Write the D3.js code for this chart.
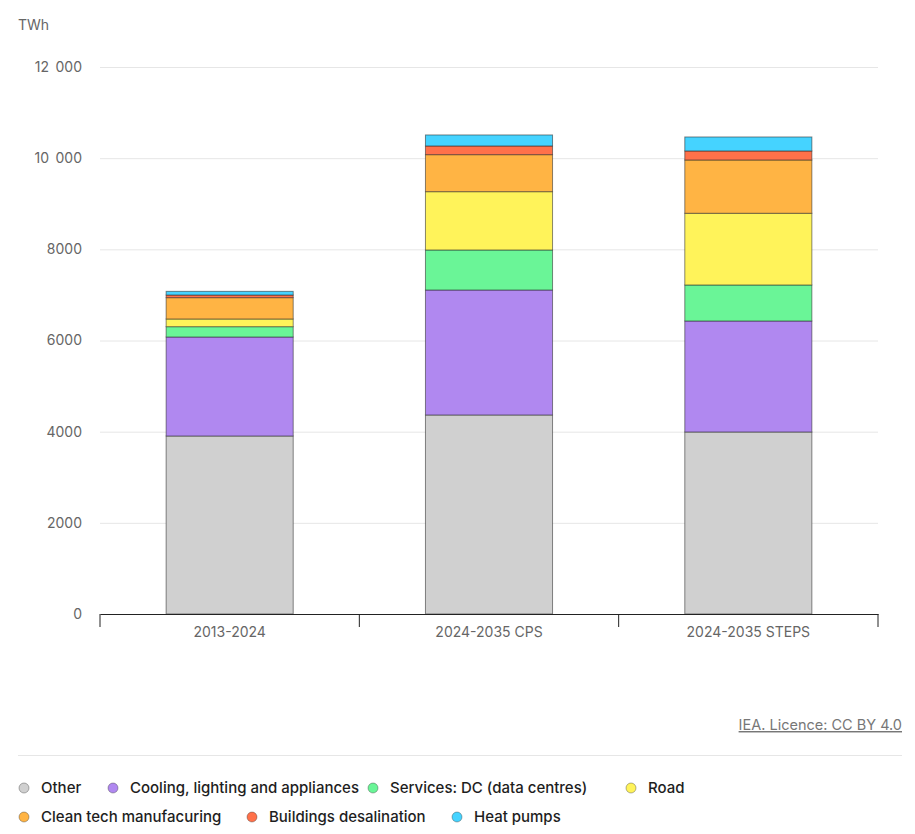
<!DOCTYPE html>
<html>
<head>
<meta charset="utf-8">
<script src="https://cdn.jsdelivr.net/npm/d3@7"></script>
<style>
  body { margin: 0; background: #fff; font-family: Inter, "Noto Sans", sans-serif; }
  .tick text { fill: #666; font-size: 14px; }
  .legend text { fill: #1e1e1e; font-size: 15px; font-weight: 500; }
</style>
</head>
<body>
<svg id="chart" width="915" height="834"></svg>
<script>
const categories = ["2013-2024", "2024-2035 CPS", "2024-2035 STEPS"];
const seriesNames = ["Other", "Cooling, lighting and appliances", "Services: DC (data centres)", "Road",
  "Clean tech manufacuring", "Buildings desalination", "Heat pumps"];
const other = [3905, 4366, 3993];
const cooling = [2172, 2742, 2435];
const dataCentres = [226, 878, 790];
const road = [169, 1279, 1573];
const cleanTech = [468, 812, 1169];
const desalination = [58, 191, 198];
const heatPumps = [80, 241, 307];
const yTicks = [0, 2000, 4000, 6000, 8000, 10000, 12000];
const colors = ["#d0d0d0", "#b088f0", "#6af597", "#fff35a", "#ffb444", "#ff714a", "#45d3ff"];

const series = [other, cooling, dataCentres, road, cleanTech, desalination, heatPumps];
const rows = categories.map((c, i) => {
  let r = { cat: c };
  seriesNames.forEach((s, j) => { r[s] = series[j][i]; });
  return r;
});

const svg = d3.select("#chart");
const mLeft = 100, mRight = 878, mTop = 67, mBottom = 614;

const x = d3.scaleBand().domain(categories).range([mLeft, mRight]).paddingInner(0.51).paddingOuter(0.255);
const y = d3.scaleLinear().domain([0, 12000]).range([mBottom, mTop]);

// thousands separated by a space, only for 5-digit numbers
const fmt = v => v >= 10000 ? d3.format(",")(v).replace(",", "\u2009 ") : String(v);

// grid + y labels
const ga = svg.append("g")
  .attr("transform", "translate(" + mLeft + ",0)")
  .call(d3.axisLeft(y).tickValues(yTicks).tickSize(-(mRight - mLeft)).tickPadding(18).tickFormat(fmt));
ga.select(".domain").remove();
ga.selectAll(".tick line").attr("stroke", "#e6e6e6");
ga.selectAll(".tick text").attr("font-family", "Inter, sans-serif").attr("font-size", 14);

svg.append("text").attr("x", 18).attr("y", 30).text("TWh")
  .attr("fill", "#666").attr("font-size", 14);

// bars
const stack = d3.stack().keys(seriesNames)(rows);
svg.append("g").selectAll("g").data(stack).enter().append("g")
  .attr("fill", (d, i) => colors[i])
  .selectAll("rect").data(d => d).enter().append("rect")
  .attr("x", d => x(d.data.cat))
  .attr("width", x.bandwidth())
  .attr("y", d => y(d[1]))
  .attr("height", d => y(d[0]) - y(d[1]))
  .attr("stroke", "rgba(40,40,40,0.55)")
  .attr("stroke-width", 1);

// x axis
const xa = svg.append("g").attr("transform", "translate(0," + mBottom + ")")
  .call(d3.axisBottom(x).tickSize(0).tickPadding(13));
xa.select(".domain").attr("stroke", "#222");
xa.selectAll(".tick text").attr("fill", "#333").attr("font-size", 14).attr("font-family", "Inter, sans-serif");
const step = x.step();
const edges = categories.map((c, i) => mLeft + i * step).concat([mRight]);
svg.append("g").selectAll("line").data(edges).enter().append("line")
  .attr("x1", d => d).attr("x2", d => d)
  .attr("y1", mBottom).attr("y2", mBottom + 13)
  .attr("stroke", "#222");

// licence
svg.append("text").attr("x", 902).attr("y", 730).attr("text-anchor", "end")
  .attr("fill", "#777").attr("font-size", 14.5).attr("text-decoration", "underline")
  .text("IEA. Licence: CC BY 4.0");
svg.append("line").attr("x1", 18).attr("x2", 902).attr("y1", 755.5).attr("y2", 755.5)
  .attr("stroke", "#e6e6e6");

// legend
const legendPos = [[24, 787], [113, 787], [373, 787], [631, 787], [24, 816], [252, 816], [457, 816]];
const lg = svg.append("g").attr("class", "legend").selectAll("g").data(seriesNames).enter().append("g")
  .attr("transform", (d, i) => "translate(" + legendPos[i][0] + "," + (legendPos[i][1] + 1) + ")");
lg.append("circle").attr("r", 5).attr("fill", (d, i) => colors[i])
  .attr("stroke", "rgba(40,40,40,0.35)").attr("stroke-width", 1);
lg.append("text").attr("x", 17).attr("dy", "0.35em").text(d => d);
</script>
</body>
</html>
